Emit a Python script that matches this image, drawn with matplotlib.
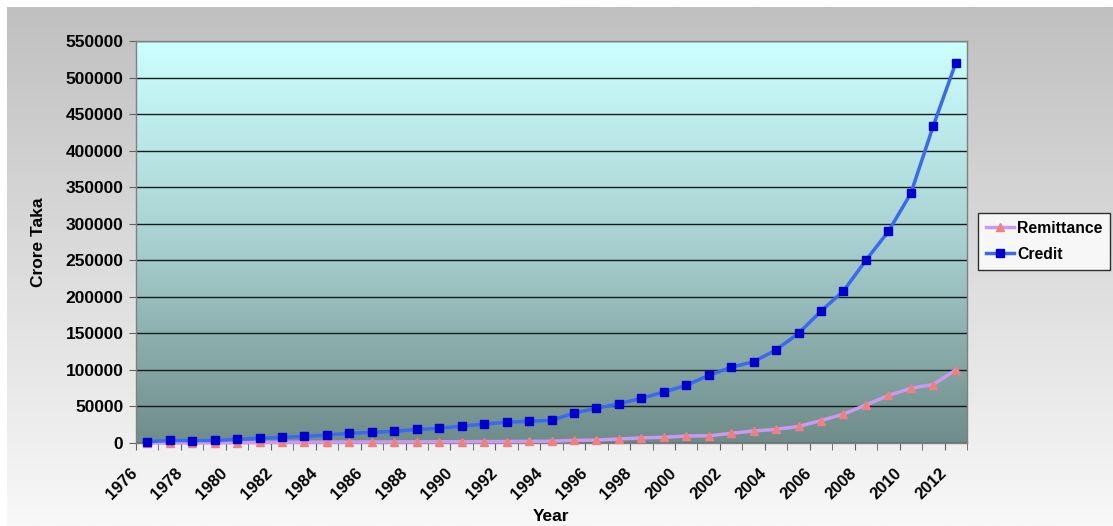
import numpy as np
import matplotlib.pyplot as plt
import matplotlib.transforms as mtransforms
from matplotlib.colors import LinearSegmentedColormap

plt.rcParams['font.family'] = ['Liberation Sans', 'DejaVu Sans']
plt.rcParams['font.weight'] = 'bold'

years = list(range(1976, 2013))
remittance = [40, 150, 250, 400, 600, 800, 1000, 1100, 1200, 1300, 1400, 1500,
              1600, 1700, 1800, 1900, 2000, 2200, 2500, 3500, 4000, 5500, 7000,
              7800, 9600, 9800, 13200, 16400, 18700, 22700, 30700, 39600, 52000,
              65000, 75000, 80000, 100000]
credit = [1800, 3500, 3300, 3500, 4800, 6300, 7700, 9100, 10900, 13200, 14600,
          16000, 18500, 20100, 23200, 26000, 28300, 29800, 31000, 41000, 47500,
          53700, 61100, 69700, 78800, 92500, 103500, 111200, 127500, 150000,
          180500, 208000, 250000, 289500, 341500, 434000, 520000]
year_labels = [str(y) for y in years[::2]]

W, H = 1113, 526
fig = plt.figure(figsize=(W / 100, H / 100), dpi=100)
fig.patch.set_facecolor('white')

# grey chart-area background, lighter towards the bottom
bg = fig.add_axes([7 / W, 0, 1 - 7 / W, 1 - 7 / H], zorder=-5)
bg_cmap = LinearSegmentedColormap.from_list('bg', ['#c0c0c0', '#f8f8f8'])
bg.imshow(np.linspace(0, 1, 256).reshape(-1, 1), cmap=bg_cmap, aspect='auto',
          extent=[0, 1, 0, 1], origin='upper')
bg.axis('off')

ax = fig.add_axes([136 / W, 1 - 443 / H, (967 - 136) / W, (443 - 41) / H])
n = len(years)
x = np.arange(n)

# plot-area gradient: pale cyan on top, dark teal grey at the bottom
pa_cmap = LinearSegmentedColormap.from_list('pa', ['#ccffff', '#a8d0d0', '#6e8c8a'])
ax.imshow(np.linspace(0, 1, 256).reshape(-1, 1), cmap=pa_cmap, aspect='auto',
          extent=[-0.5, n - 0.5, 0, 550000], origin='upper', zorder=0)

ax.plot(x, remittance, color='#cc99ee', lw=2.5, marker='^', ms=6,
        mfc='#f08080', mec='#f08080', label='Remittance', zorder=3, clip_on=False)
ax.plot(x, credit, color='#3a6aee', lw=2.5, marker='s', ms=5.5,
        mfc='#0000cc', mec='#0000cc', label='Credit', zorder=4, clip_on=False)

ax.set_xlim(-0.5, n - 0.5)
ax.set_ylim(0, 550000)
ax.set_yticks(np.arange(0, 550001, 50000))
ax.yaxis.grid(True, color='#1a1a1a', lw=1)
for gl in ax.yaxis.get_gridlines():
    gl.set_zorder(1)

# tick marks at every category boundary, labels on every second one
ax.set_xticks(np.arange(-0.5, n, 2.0))
ax.set_xticklabels(year_labels, rotation=45, ha='right', va='top',
                   rotation_mode='anchor', fontsize=12, fontweight='bold')
ax.set_xticks(np.arange(-0.5, n, 1.0), minor=True)
ax.tick_params(axis='x', which='both', length=5, color='#606060', pad=4)
ax.tick_params(axis='y', length=5, color='#606060', labelsize=12.5, pad=4)
for lab in ax.get_yticklabels():
    lab.set_fontweight('bold')

# nudge the slanted year labels down and to the left
shift = mtransforms.ScaledTranslation(-0.06, -0.10, fig.dpi_scale_trans)
for lab in ax.get_xticklabels():
    lab.set_transform(lab.get_transform() + shift)

for s in ax.spines.values():
    s.set_color('#808080')
    s.set_linewidth(1)

ax.set_xlabel('Year', fontsize=12.5, fontweight='bold')
ax.xaxis.set_label_coords(0.5, -0.165)
ax.set_ylabel('Crore Taka', fontsize=12.5, fontweight='bold')
ax.yaxis.set_label_coords(-0.108, 0.5)

leg = fig.legend(loc='upper left', bbox_to_anchor=(978 / W, 1 - 213 / H),
                 frameon=True, fancybox=False, fontsize=11.3, handlelength=1.8,
                 handletextpad=0.2, borderpad=0.5, labelspacing=0.7,
                 borderaxespad=0)
leg.get_frame().set_edgecolor('black')
leg.get_frame().set_linewidth(1)
for t in leg.get_texts():
    t.set_fontweight('bold')

fig.savefig('out.png', dpi=100)
